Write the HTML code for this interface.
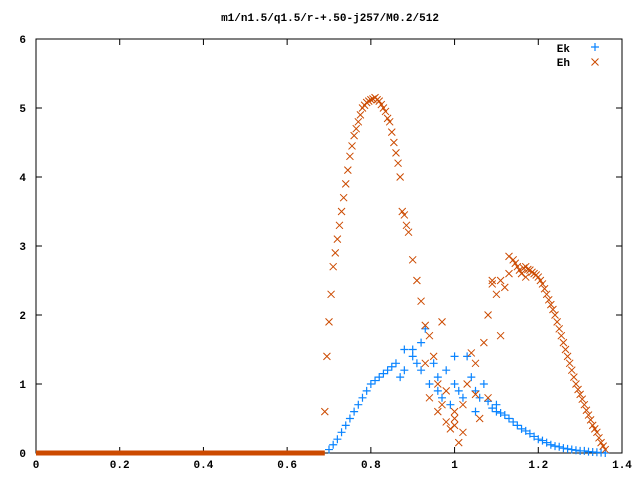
<!DOCTYPE html>
<html><head><meta charset="utf-8"><style>
body{margin:0;background:#fff;}
svg{display:block;font-family:"Liberation Mono","DejaVu Sans Mono",monospace;font-size:11px;}
</style></head><body>
<svg id="c" width="640" height="480">
<text x="330" y="21" text-anchor="middle" font-weight="bold">m1/n1.5/q1.5/r-+.50-j257/M0.2/512</text>
<g id="axes"></g><g id="marks"></g>
<g>
<text x="570" y="52" text-anchor="end" font-weight="bold">Ek</text>
<text x="570" y="66" text-anchor="end" font-weight="bold">Eh</text>
</g>
</svg>
<script>
const xTicks=[0,0.2,0.4,0.6,0.8,1,1.2,1.4];
const xTickLabels=["0","0.2","0.4","0.6","0.8","1","1.2","1.4"];
const yTicks=[0,1,2,3,4,5,6];
const zeroRange=[0,0.69];
const ehX=[0.69,0.695,0.70,0.705,0.71,0.72,0.73,0.74,0.75,0.76,0.77,0.78,0.79,0.80,0.81,0.82,0.83,0.84,0.85,0.86,0.87,0.88,0.89,0.90,0.91,0.92,0.93,0.94,0.95,0.96,0.97,0.98,0.99,1.0,1.01,1.02,1.03,1.04,1.05,1.06,1.07,1.08,1.09,1.10,1.11,1.12,1.13,1.14,1.15,1.16,1.17,1.18,1.19,1.20,1.21,1.22,1.23,1.24,1.25,1.26,1.27,1.28,1.29,1.30,1.31,1.32,1.33,1.34,1.35,1.36,0.93,0.96,0.98,1.0,1.02,1.05,1.08,0.94,1.0,0.97,
0.715,0.725,0.735,0.745,0.755,0.765,0.775,0.785,0.795,0.805,0.815,0.825,0.835,0.845,0.855,0.865,0.875,0.885,1.145,1.155,1.165,1.175,1.185,1.195,1.205,1.215,1.225,1.235,1.245,1.255,1.265,1.275,1.285,1.295,1.305,1.315,1.325,1.335,1.345,1.355,1.13,1.17,1.11,1.09];
const ehY=[0.6,1.4,1.9,2.3,2.7,3.1,3.5,3.9,4.3,4.6,4.8,5.0,5.08,5.12,5.15,5.1,5.0,4.85,4.65,4.35,4.0,3.45,3.2,2.8,2.5,2.2,1.85,1.7,1.4,1.0,0.7,0.45,0.35,0.5,0.15,0.7,1.0,1.45,1.3,0.5,1.6,2.0,2.5,2.3,1.7,2.4,2.6,2.8,2.7,2.6,2.7,2.65,2.6,2.55,2.45,2.3,2.15,2.0,1.8,1.6,1.4,1.2,1.0,0.85,0.7,0.55,0.4,0.3,0.15,0.05,1.3,0.6,0.9,0.6,0.3,0.85,0.8,0.8,0.4,1.9,
2.9,3.3,3.7,4.1,4.45,4.7,4.9,5.04,5.1,5.13,5.12,5.05,4.95,4.8,4.5,4.2,3.5,3.3,2.75,2.65,2.68,2.66,2.62,2.58,2.5,2.38,2.22,2.08,1.9,1.7,1.5,1.3,1.1,0.92,0.78,0.62,0.48,0.35,0.22,0.1,2.85,2.55,2.5,2.45];
const ekX=[0.70,0.72,0.74,0.76,0.78,0.80,0.82,0.84,0.86,0.88,0.90,0.92,0.93,0.94,0.96,0.98,1.0,1.02,1.04,1.06,1.08,1.10,1.12,1.14,1.16,1.18,1.20,1.22,1.24,1.26,1.28,1.30,1.32,1.34,1.36,0.88,0.87,0.9,0.92,0.95,0.97,1.0,1.03,1.05,1.07,1.05,1.1,0.99,
0.71,0.73,0.75,0.77,0.79,0.81,0.83,0.85,1.11,1.13,1.15,1.17,1.19,1.21,1.23,1.25,1.27,1.29,1.31,1.33,1.35,0.91,0.96,1.01,1.09];
const ekY=[0.05,0.2,0.4,0.6,0.8,1.0,1.1,1.2,1.3,1.2,1.5,1.2,1.8,1.0,0.9,1.2,1.0,0.8,1.1,0.8,0.75,0.6,0.55,0.45,0.35,0.28,0.2,0.15,0.1,0.07,0.05,0.03,0.02,0.01,0.0,1.5,1.1,1.4,1.6,1.3,0.8,1.4,1.4,0.6,1.0,0.9,0.7,0.7,
0.12,0.3,0.5,0.7,0.9,1.05,1.15,1.25,0.58,0.5,0.4,0.32,0.24,0.18,0.12,0.09,0.06,0.04,0.03,0.015,0.005,1.3,1.1,0.9,0.65];
const L=36,R=622,T=39,B=453,XMAX=1.4,YMAX=6;
const sx=v=>L+(R-L)*v/XMAX, sy=v=>B-(B-T)*v/YMAX;
const NS="http://www.w3.org/2000/svg";
const ax=document.getElementById('axes'), mk=document.getElementById('marks');
function el(t,a,p){const e=document.createElementNS(NS,t);for(const k in a)e.setAttribute(k,a[k]);p.appendChild(e);return e;}
const frame=el('rect',{x:L,y:T,width:R-L,height:B-T,fill:'none',stroke:'#000','stroke-width':1},ax);


xTicks.forEach((v,i)=>{
 const x=sx(v);
 const t1=el('path',{d:`M${x} ${B}v-6M${x} ${T}v6`,stroke:'#000'},ax);
 
 
 const tx=el('text',{x:x,y:B+15,'text-anchor':'middle','font-weight':'bold'},ax);
 
 
 tx.textContent=xTickLabels[i];
});
yTicks.forEach(v=>{
 const y=sy(v);
 const t1=el('path',{d:`M${L} ${y}h6M${R} ${y}h-6`,stroke:'#000'},ax);
 
 
 const tx=el('text',{x:L-10,y:y+4,'text-anchor':'end','font-weight':'bold'},ax);
 
 
 tx.textContent=String(v);
});
const EK='#0a84ff', EH='#cc4a00';
const zl=el('path',{d:`M${sx(zeroRange[0])} ${sy(0)}H${sx(zeroRange[1])}`,stroke:EH,'stroke-width':5},mk);


function cross(x,y,c){const p=el('path',{d:`M${x-3.5} ${y-3.5}l7 7M${x-3.5} ${y+3.5}l7 -7`,stroke:c,'stroke-width':1},mk);
 
 }
function plus(x,y,c){const p=el('path',{d:`M${x-4} ${y}h8M${x} ${y-4}v8`,stroke:c,'stroke-width':1.2},mk);
 
 }
ekX.forEach((v,i)=>plus(sx(v),sy(ekY[i]),EK));
ehX.forEach((v,i)=>cross(sx(v),sy(ehY[i]),EH));
plus(595,47,EK);
cross(595,62,EH);
</script>
</body></html>
